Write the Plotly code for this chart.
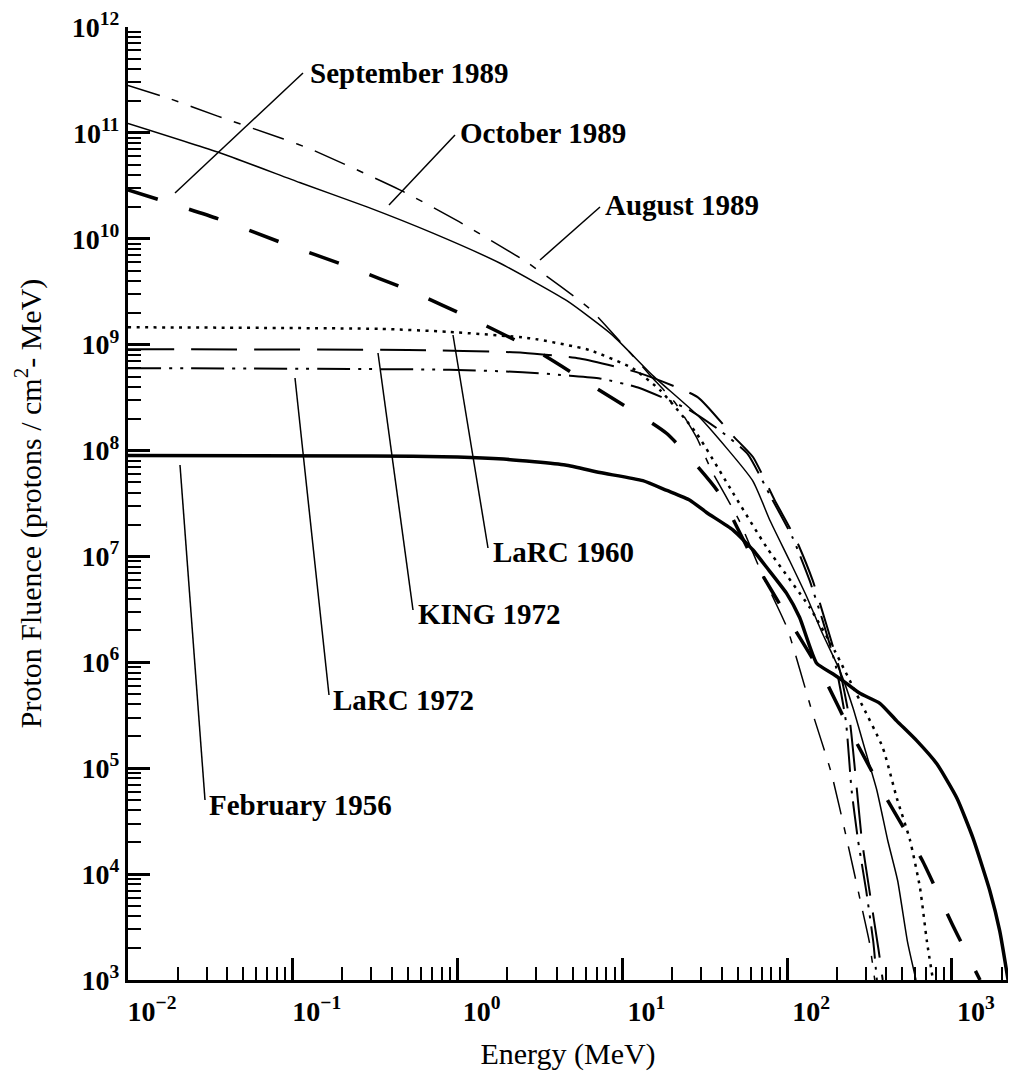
import plotly.graph_objects as go

# ---------------- data ----------------
x_tick_vals = [1e-2, 1e-1, 1e0, 1e1, 1e2, 1e3]
x_tick_text = ["10<sup>−2</sup>", "10<sup>−1</sup>", "10<sup>0</sup>",
               "10<sup>1</sup>", "10<sup>2</sup>", "10<sup>3</sup>"]
y_tick_vals = [1e3, 1e4, 1e5, 1e6, 1e7, 1e8, 1e9, 1e10, 1e11, 1e12]
y_tick_text = ["10<sup>%d</sup>" % k for k in range(3, 13)]

aug89_E = [0.01, 0.0172, 0.035, 0.087, 0.132, 0.446, 1.02, 2.63, 6.3, 9.3, 14.8, 21,
           28.2, 34.7, 51, 71, 100, 141, 185, 229, 278, 315, 340]
aug89_F = [2.8e11, 2.15e11, 1.44e11, 8.8e10, 6.9e10, 2.9e10, 1.45e10, 6.0e9, 2.2e9, 1.15e9,
           5.1e8, 2.8e8, 1.33e8, 6.5e7, 2.2e7, 6.6e6, 2.1e6, 3.5e5, 9.1e4, 2.2e4, 5.6e3,
           2.3e3, 1.0e3]

oct89_E = [0.01, 0.036, 0.110, 0.282, 0.708, 1.80, 4.6, 8.7, 15.3, 29.5, 61.7, 78.5,
           103.5, 132, 164, 209, 251, 295, 350, 407, 468, 537, 605]
oct89_F = [1.23e11, 6.5e10, 3.4e10, 2.0e10, 1.13e10, 5.9e9, 2.6e9, 1.23e9, 5.1e8, 2.05e8,
           5.2e7, 2.2e7, 9.1e6, 4.1e6, 1.86e6, 8.3e5, 3.7e5, 1.55e5, 6.2e4, 2.1e4, 8.7e3,
           2.3e3, 1.0e3]

sep89_E = [0.01, 0.035, 0.087, 0.214, 0.525, 1.27, 3.1, 7.6, 18.6, 38, 63, 103, 170, 240,
           398, 660, 1000, 1480]
sep89_F = [2.9e10, 1.55e10, 9.1e9, 5.5e9, 3.2e9, 1.7e9, 8.5e8, 3.55e8, 1.45e8, 4.1e7,
           9.1e6, 2.5e6, 6.8e5, 2.3e5, 5.3e4, 1.35e4, 3.4e3, 1.0e3]

larc60_E = [0.01, 0.339, 0.89, 2.75, 6.3, 11.5, 17, 28.2, 46.8, 75, 137, 194, 275, 380,
            463, 556, 640, 705, 767]
larc60_F = [1.46e9, 1.41e9, 1.32e9, 1.15e9, 8.9e8, 6.0e8, 3.7e8, 1.45e8, 4.0e7, 1.22e7,
            3.3e6, 1.29e6, 4.4e5, 1.57e5, 5.2e4, 2.1e4, 7.4e3, 2.3e3, 1.0e3]

king72_E = [0.01, 0.5, 2.48, 5.5, 12.2, 28.6, 46.8, 62, 84, 114, 143, 174, 209, 240, 265,
            284, 316, 359, 380]
king72_F = [9.06e8, 8.9e8, 8.4e8, 7.4e8, 5.5e8, 3.2e8, 1.38e8, 8.7e7, 3.4e7, 1.41e7, 5.9e6,
            2.2e6, 8.3e5, 2.8e5, 6.2e4, 2.1e4, 6.9e3, 1.9e3, 1.0e3]

larc72_E = [0.01, 0.89, 2.48, 4.8, 7.3, 12.7, 25.7, 39, 57.5, 78.5, 108, 137, 164, 197,
            227, 246, 269, 302, 333, 350]
larc72_F = [6.0e8, 5.8e8, 5.5e8, 5.1e8, 4.8e8, 3.9e8, 2.4e8, 1.55e8, 9.3e7, 3.8e7, 1.5e7,
            5.9e6, 2.5e6, 9.3e5, 2.8e5, 6.2e4, 2.1e4, 6.9e3, 2.3e3, 1.0e3]

feb56_E = [0.01, 0.3, 1.0, 1.9, 4.5, 7.3, 13.3, 18.6, 25.7, 32.4, 46.8, 62, 75, 99, 119,
           151, 189, 230, 276, 365, 462, 611, 809, 1072, 1340, 1700, 1950, 2190]
feb56_F = [9.0e7, 8.9e7, 8.7e7, 8.3e7, 7.3e7, 6.2e7, 5.2e7, 4.2e7, 3.4e7, 2.6e7, 1.78e7,
           1.15e7, 7.9e6, 4.5e6, 2.65e6, 9.8e5, 7.8e5, 6.3e5, 5.1e5, 4.1e5, 2.8e5, 1.82e5,
           1.1e5, 5.2e4, 2.2e4, 6.9e3, 2.9e3, 1.0e3]

# ---------------- figure ----------------
W, H = 1010, 1071
ML, MR, MT, MB = 128, 2, 27, 91
SERIF = "Liberation Serif, Times New Roman, serif"

series = [
    ("August 1989", aug89_E, aug89_F, dict(width=1.5, dash="33px,13px,7px,13px")),
    ("October 1989", oct89_E, oct89_F, dict(width=1.5)),
    ("September 1989", sep89_E, sep89_F, dict(width=3.5, dash="31px,33px")),
    ("LaRC 1960", larc60_E, larc60_F, dict(width=2.5, dash="3px,5.5px")),
    ("KING 1972", king72_E, king72_F, dict(width=2, dash="46px,17px")),
    ("LaRC 1972", larc72_E, larc72_F, dict(width=2, dash="33px,8px,3px,8px,3px,8px")),
    ("February 1956", feb56_E, feb56_F, dict(width=3.5)),
]

fig = go.Figure()
for name, e, f, ln in series:
    fig.add_trace(go.Scatter(x=e, y=f, mode="lines", name=name,
                             line=dict(color="black", shape="spline", smoothing=0.5, **ln),
                             hoverinfo="skip", showlegend=False))

# label positions (pixel space of the page) -> paper coordinates
PW, PH = W - ML - MR, H - MT - MB
def px(x):
    return (x - ML) / PW
def py(y):
    return (H - MB - y) / PH

labels = [
    ("September 1989", (308, 73), (175, 193), (303, 73)),
    ("October 1989", (458, 133), (389, 205), (455, 135)),
    ("August 1989", (603, 205), (540, 260), (600, 207)),
    ("LaRC 1960", (491, 552), (453, 335), (488, 548)),
    ("KING 1972", (416, 614), (378, 353), (413, 610)),
    ("LaRC 1972", (331, 700), (295, 378), (329, 695)),
    ("February 1956", (207, 805), (180, 465), (205, 800)),
]
for text, (tx, ty), (x0, y0), (x1, y1) in labels:
    fig.add_annotation(x=px(tx), y=py(ty), xref="paper", yref="paper", text=text,
                       showarrow=False, xanchor="left", yanchor="middle",
                       font=dict(family=SERIF, size=29, color="black", weight="bold"))
    fig.add_shape(type="line", xref="paper", yref="paper",
                  x0=px(x0), y0=py(y0), x1=px(x1), y1=py(y1),
                  line=dict(color="black", width=1.5))

axis_common = dict(
    type="log", showgrid=False, zeroline=False, showline=True, linecolor="black",
    linewidth=3, ticks="inside", ticklen=22, tickwidth=3, tickcolor="black",
    tickmode="array", mirror=False,
    minor=dict(ticks="inside", ticklen=13, tickwidth=2, tickcolor="black",
               dtick="D1", showgrid=False),
)

fig.update_xaxes(**axis_common, range=[-2, 3.34], tickvals=x_tick_vals, ticktext=x_tick_text,
                 tickfont=dict(family=SERIF, size=28, color="black", weight="bold"),
                 ticklabelshift=24, ticklabelstandoff=4,
                 title=dict(text="Energy (MeV)", standoff=18,
                            font=dict(family=SERIF, size=30, color="black")))
fig.update_yaxes(**axis_common, range=[3, 12], tickvals=y_tick_vals, ticktext=y_tick_text,
                 tickfont=dict(family=SERIF, size=28, color="black", weight="bold"),
                 ticklabelstandoff=0,
                 title=dict(text="Proton Fluence (protons / cm<sup>2</sup>- MeV)", standoff=22,
                            font=dict(family=SERIF, size=30, color="black")))

fig.update_layout(width=W, height=H, margin=dict(l=ML, r=MR, t=MT, b=MB, autoexpand=False),
                  paper_bgcolor="white", plot_bgcolor="white")

fig.write_html("out.html")
